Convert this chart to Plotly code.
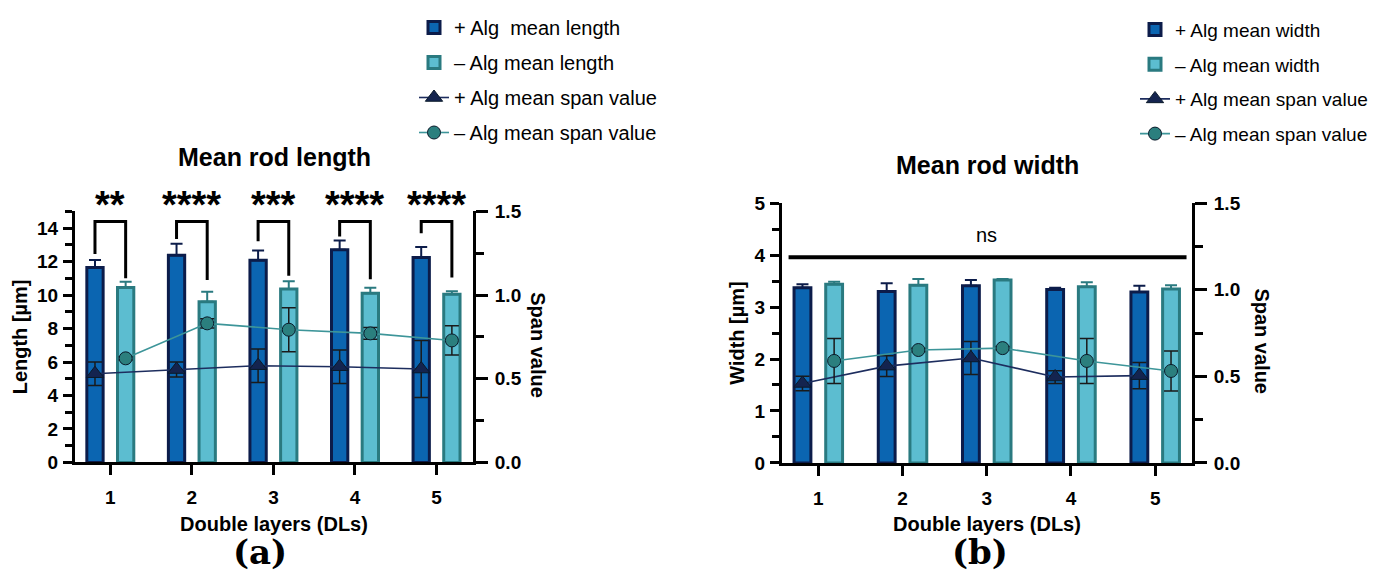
import plotly.graph_objects as go

# ---------------- data ----------------
dl = [1, 2, 3, 4, 5]
dl_labels = ["1", "2", "3", "4", "5"]

# (a) mean rod length [µm]
len_plus = [11.65, 12.38, 12.08, 12.70, 12.25]
len_plus_err = [0.45, 0.68, 0.58, 0.56, 0.62]
len_minus = [10.45, 9.60, 10.36, 10.11, 10.05]
len_minus_err = [0.35, 0.60, 0.47, 0.32, 0.18]
span_len_plus = [0.530, 0.555, 0.578, 0.572, 0.558]
span_len_plus_err = [0.070, 0.045, 0.100, 0.100, 0.170]
span_len_minus = [0.622, 0.831, 0.793, 0.771, 0.729]
span_len_minus_err = [0.010, 0.028, 0.131, 0.035, 0.087]
sig_len = ["**", "****", "***", "****", "****"]
bracket_left_end = [12.46, 13.35, 13.22, 13.50, 13.70]
bracket_right_end = [11.00, 10.90, 11.15, 10.95, 11.05]
bracket_top = 14.4

# (b) mean rod width [µm]
wid_plus = [3.37, 3.30, 3.41, 3.34, 3.29]
wid_plus_err = [0.07, 0.16, 0.11, 0.03, 0.12]
wid_minus = [3.44, 3.42, 3.52, 3.39, 3.35]
wid_minus_err = [0.05, 0.12, 0.02, 0.09, 0.07]
span_wid_plus = [0.459, 0.559, 0.606, 0.496, 0.504]
span_wid_plus_err = [0.042, 0.060, 0.095, 0.037, 0.076]
span_wid_minus = [0.589, 0.652, 0.663, 0.589, 0.531]
span_wid_minus_err = [0.130, 0.010, 0.010, 0.130, 0.115]
ns_level = 3.96
ns_text = "ns"

# ---------------- layout helpers ----------------
PAGE_W, PAGE_H = 1383, 584
BODY = 8                      # default page body margin
FW, FH = PAGE_W - BODY, PAGE_H - BODY


def px(xp):   # page pixel -> paper x
    return (xp - BODY) / FW


def py(yp):   # page pixel -> paper y
    return 1 - (yp - BODY) / FH


SANS = "Liberation Sans, Arial, sans-serif"
SHIFT = 0.188
BW = 0.2
PLUS_FILL, PLUS_EDGE = "#0b65b1", "#0c1c4a"
MINUS_FILL, MINUS_EDGE = "#5cbdd0", "#2a7a80"
PLUS_LINE, PLUS_MARK = "#1d2d5e", "#14244f"
MINUS_LINE, MINUS_MARK = "#3d9599", "#2b7f7e"
ERR = "#1a1a1a"

xp_ = [d - SHIFT for d in dl]
xm_ = [d + SHIFT for d in dl]

fig = go.Figure()


def add_bar(name, y, err, fill, edge, xa, ya, legend, offset):
    fig.add_trace(go.Bar(
        name=name, x=dl, y=y, width=BW, offset=offset,
        marker=dict(color=fill, line=dict(color=edge, width=3)),
        error_y=dict(type="data", array=err, arrayminus=[0] * len(err),
                     symmetric=False, color=edge, thickness=2, width=6),
        xaxis=xa, yaxis=ya, legend=legend, legendgroup=name))


def add_span(name, x, y, err, line, mark, symbol, size, xa, ya, legend):
    fig.add_trace(go.Scatter(
        name=name, x=x, y=y, mode="lines+markers",
        line=dict(color=line, width=1.6),
        marker=dict(symbol=symbol, size=size, color=mark,
                    line=dict(color="#0a1a2a", width=1)),
        error_y=dict(type="data", array=err, color=ERR, thickness=1.5, width=7),
        xaxis=xa, yaxis=ya, legend=legend, legendgroup=name))


# panel (a)
add_bar("+ Alg  mean length", len_plus, len_plus_err, PLUS_FILL, PLUS_EDGE, "x", "y", "legend", -SHIFT - BW / 2)
add_bar("– Alg mean length", len_minus, len_minus_err, MINUS_FILL, MINUS_EDGE, "x", "y", "legend", SHIFT - BW / 2)
add_span("+ Alg mean span value", xp_, span_len_plus, span_len_plus_err, PLUS_LINE, PLUS_MARK, "triangle-up", 15, "x", "y2", "legend")
add_span("– Alg mean span value", xm_, span_len_minus, span_len_minus_err, MINUS_LINE, MINUS_MARK, "circle", 13, "x", "y2", "legend")

# panel (b)
add_bar("+ Alg mean width", wid_plus, wid_plus_err, PLUS_FILL, PLUS_EDGE, "x2", "y3", "legend2", -SHIFT - BW / 2)
add_bar("– Alg mean width", wid_minus, wid_minus_err, MINUS_FILL, MINUS_EDGE, "x2", "y3", "legend2", SHIFT - BW / 2)
add_span("+ Alg mean span value", xp_, span_wid_plus, span_wid_plus_err, PLUS_LINE, PLUS_MARK, "triangle-up", 15, "x2", "y4", "legend2")
add_span("– Alg mean span value", xm_, span_wid_minus, span_wid_minus_err, MINUS_LINE, MINUS_MARK, "circle", 13, "x2", "y4", "legend2")

tickfont = dict(family=SANS, size=19, color="black", weight="bold")
titlefont = dict(family=SANS, size=20, color="black", weight="bold")


def xaxis(domain, rng, anchor):
    return dict(domain=domain, range=rng, anchor=anchor, tickvals=dl, ticktext=dl_labels,
                showline=True, linewidth=3, linecolor="black", ticks="outside",
                ticklen=10, tickwidth=3, tickcolor="black", showgrid=False, zeroline=False,
                tickfont=tickfont, ticklabelstandoff=6,
                title=dict(text="Double layers (DLs)", font=titlefont, standoff=10))


def yleft(domain, rng, dtick, minor, anchor, title):
    return dict(domain=domain, range=rng, anchor=anchor, dtick=dtick, tick0=0,
                showline=True, linewidth=3, linecolor="black", ticks="outside",
                ticklen=9, tickwidth=3, tickcolor="black", showgrid=False, zeroline=False,
                tickfont=tickfont, ticklabelstandoff=1,
                minor=dict(dtick=minor, ticks="outside", ticklen=7, tickwidth=3, tickcolor="black", showgrid=False),
                title=dict(text=title, font=titlefont, standoff=5))


def yright(over, anchor):
    return dict(overlaying=over, side="right", anchor=anchor, range=[0, 1.5],
                tickvals=[0, 0.5, 1.0, 1.5], ticktext=["0.0", "0.5", "1.0", "1.5"],
                showline=True, linewidth=3, linecolor="black", ticks="outside",
                ticklen=12, tickwidth=3, tickcolor="black", showgrid=False, zeroline=False,
                tickfont=tickfont, ticklabelstandoff=3,
                minor=dict(tickvals=[0.25, 0.75, 1.25], ticks="outside", ticklen=8, tickwidth=3, tickcolor="black", showgrid=False))


dom_ax = [px(75), px(473)]
dom_bx = [px(782), px(1192)]
dom_ay = [py(468), py(204.6)]
dom_by = [py(468.5), py(196)]

fig.update_layout(
    width=FW, height=FH, margin=dict(l=0, r=0, t=0, b=0),
    paper_bgcolor="white", plot_bgcolor="rgba(0,0,0,0)",
    barmode="overlay", font=dict(family=SANS, color="black"),
    xaxis=xaxis(dom_ax, [0.567, 5.447], "y"),
    yaxis=yleft(dom_ay, [0, 15], 2, 1, "x", "Length [µm]"),
    yaxis2=yright("y", "x"),
    xaxis2=xaxis(dom_bx, [0.569, 5.437], "y3"),
    yaxis3=yleft(dom_by, [0, 5], 1, 0.5, "x2", "Width [µm]"),
    yaxis4=yright("y3", "x2"),
    legend=dict(x=px(414), xanchor="left", y=py(-9), yanchor="top",
                font=dict(family=SANS, size=20, color="black"), bgcolor="rgba(0,0,0,0)",
                traceorder="grouped", tracegroupgap=6),
    legend2=dict(x=px(1135), xanchor="left", y=py(-6), yanchor="top",
                 font=dict(family=SANS, size=19, color="black"), bgcolor="rgba(0,0,0,0)",
                 traceorder="grouped", tracegroupgap=7),
)

# significance brackets and stars (panel a)
for d, s, yl, yr in zip(dl, sig_len, bracket_left_end, bracket_right_end):
    x0, x1 = d - SHIFT, d + SHIFT
    fig.add_shape(type="path", xref="x", yref="y",
                  path=f"M {x0},{yl} L {x0},{bracket_top} L {x1},{bracket_top} L {x1},{yr}",
                  line=dict(color="black", width=3))
    fig.add_annotation(x=d, y=py(198), xref="x", yref="paper", text=s, showarrow=False,
                       yanchor="middle", font=dict(family=SANS, size=38, color="black", weight="bold"))

# ns line (panel b)
fig.add_shape(type="line", xref="x2", yref="y3", x0=0.647, x1=5.372, y0=ns_level, y1=ns_level,
              line=dict(color="black", width=4))
fig.add_annotation(x=3, y=4.38, xref="x2", yref="y3", text=ns_text, showarrow=False,
                   yanchor="middle", font=dict(family=SANS, size=20, color="black"))

# titles
for xpix, ypix, txt in [(274, 148, "Mean rod length"), (987, 156, "Mean rod width")]:
    fig.add_annotation(x=px(xpix), y=py(ypix), xref="paper", yref="paper", text=txt,
                       showarrow=False, xanchor="center", yanchor="middle",
                       font=dict(family=SANS, size=25, color="black", weight="bold"))

# right-axis titles (rotated clockwise)
for xpix, ypix in [(538, 345), (1262, 341)]:
    fig.add_annotation(x=px(xpix), y=py(ypix), xref="paper", yref="paper", text="Span value",
                       showarrow=False, textangle=90, xanchor="center", yanchor="middle",
                       font=titlefont)

# panel labels
for xpix, ypix, txt in [(260, 562, "(a)"), (980, 562, "(b)")]:
    fig.add_annotation(x=px(xpix), y=py(ypix), xref="paper", yref="paper", text=txt,
                       showarrow=False, xanchor="center", yanchor="middle",
                       font=dict(family="DejaVu Serif, Liberation Serif, serif", size=34,
                                 color="black", weight="bold"))

fig.write_html("out.html")
